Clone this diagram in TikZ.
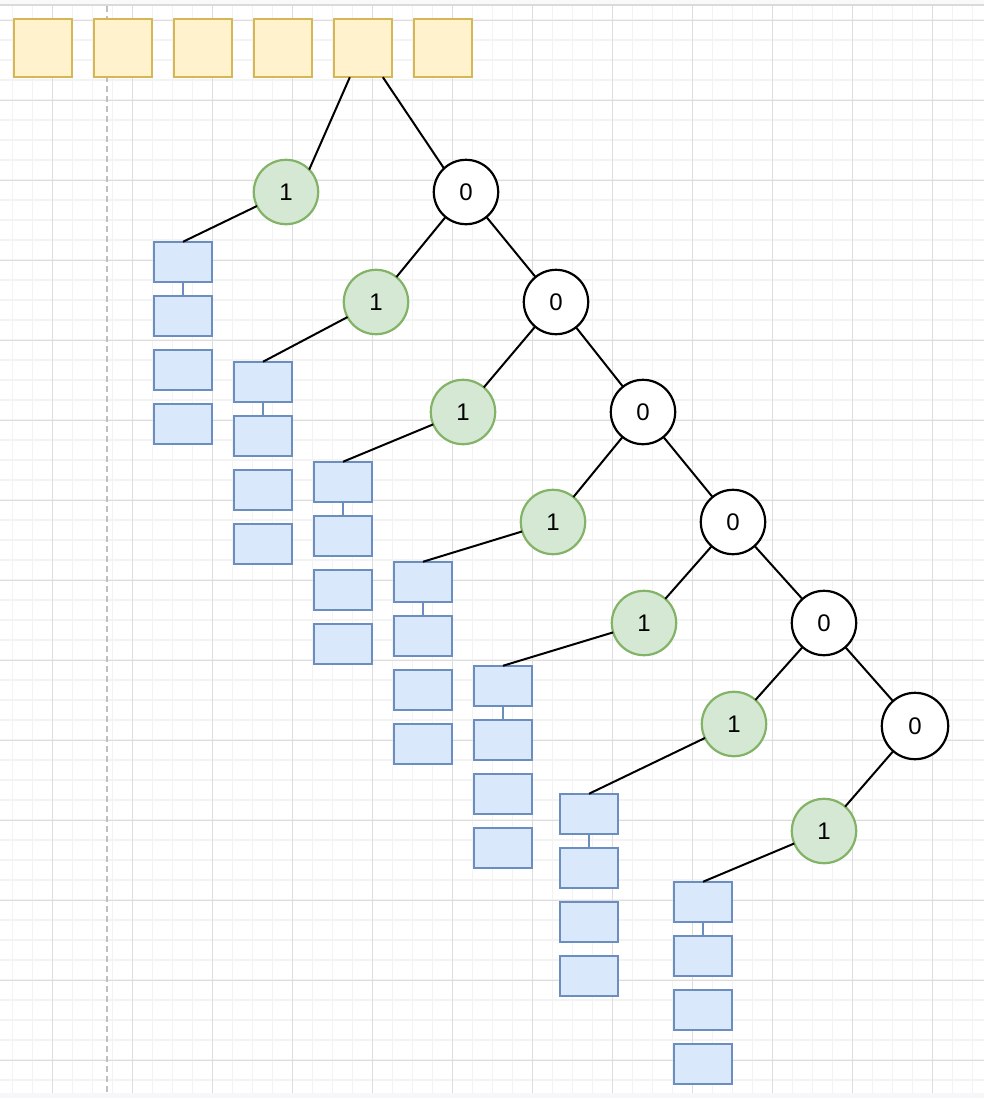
\documentclass[tikz,border=0pt]{standalone}
\usepackage{fontspec}
\setmainfont{Liberation Sans}
\usetikzlibrary{calc}
\definecolor{yfill}{HTML}{FFF2CC}
\definecolor{ydraw}{HTML}{D6B656}
\definecolor{gfill}{HTML}{D5E8D4}
\definecolor{gdraw}{HTML}{82B366}
\definecolor{bfill}{HTML}{DAE8FC}
\definecolor{bdraw}{HTML}{6C8EBF}
\definecolor{gridminor}{HTML}{F3F3F3}
\definecolor{gridmajor}{HTML}{DDDDDD}
\definecolor{topband}{HTML}{F9F9F9}
\definecolor{topline}{HTML}{DADADA}
\definecolor{botband}{HTML}{F6F7F9}
\definecolor{dashgray}{HTML}{C0C0C0}
\begin{document}
\begin{tikzpicture}[x=1pt,y=-1pt,
  ysq/.style={draw=ydraw,fill=yfill,line width=2.2pt,minimum width=58.4pt,minimum height=58.4pt,inner sep=0pt,outer sep=0pt},
  gnode/.style={circle,draw=gdraw,fill=gfill,line width=2.2pt,minimum size=64.4pt,inner sep=0pt,outer sep=0pt,font=\fontsize{24}{28}\selectfont},
  znode/.style={circle,draw=black,fill=white,line width=2.2pt,minimum size=64.4pt,inner sep=0pt,outer sep=0pt,font=\fontsize{24}{28}\selectfont},
  bbox/.style={draw=bdraw,fill=bfill,line width=2.2pt,minimum width=58.4pt,minimum height=40.1pt,inner sep=0pt,outer sep=0pt},
  edgeline/.style={draw=black,line width=2pt},
  blink/.style={draw=bdraw,line width=2.2pt},
  minorline/.style={draw=gridminor,line width=1.5pt},
  majorline/.style={draw=gridmajor,line width=1pt}
]
\useasboundingbox (0,0) rectangle (984,1098);
% background
\fill[white] (0,0) rectangle (984,1098);
\fill[topband] (0,0) rectangle (984,4);
\fill[botband] (0,1093) rectangle (984,1098);
% grid
\foreach \k in {0,...,48} \draw[minorline] (12.7+20*\k,6) -- (12.7+20*\k,1093);
\foreach \k in {1,...,54} \draw[minorline] (0,20*\k) -- (984,20*\k);
\foreach \k in {0,...,11} \draw[majorline] (52.7+80*\k,6) -- (52.7+80*\k,1093);
\foreach \k in {0,...,13} \draw[majorline] (0,20+80*\k) -- (984,20+80*\k);
\draw[topline,line width=1.6pt] (0,5) -- (984,5);
% dashed guide
\coordinate (dtop) at (107,6);
\coordinate (dbot) at (107,1093);
\draw[dashgray,line width=2pt,dash pattern=on 6pt off 4pt] (dtop) -- (dbot);
% top squares
\foreach \i/\x in {1/43,2/123,3/203,4/283,5/363,6/443}
  \node[ysq] (y\i) at (\x,48) {};
% circles
\node[gnode] (g1) at (286,192) {1};
\node[znode] (z1) at (466,192) {0};
\node[gnode] (g2) at (376,302) {1};
\node[znode] (z2) at (556,302) {0};
\node[gnode] (g3) at (463,412) {1};
\node[znode] (z3) at (643,412) {0};
\node[gnode] (g4) at (553,522) {1};
\node[znode] (z4) at (733,522) {0};
\node[gnode] (g5) at (644,623) {1};
\node[znode] (z5) at (824,623) {0};
\node[gnode] (g6) at (734,724) {1};
\node[znode,minimum size=66.4pt] (z6) at (915,726) {0};
\node[gnode] (g7) at (824,831) {1};
% stacks
\foreach \i/\x/\y in {1/183/261.8,2/263/381.8,3/343/481.8,4/423/581.8,5/503/685.8,6/589/813.8,7/703/901.8}
{
  \node[bbox] (s\i-1) at (\x,\y) {};
  \node[bbox] (s\i-2) at (\x,\y+54) {};
  \node[bbox] (s\i-3) at (\x,\y+108) {};
  \node[bbox] (s\i-4) at (\x,\y+162) {};
  \draw[blink] (s\i-1) -- (s\i-2);
  \draw[edgeline] (g\i) -- (s\i-1.north);
}
% tree edges
\draw[edgeline] ($(y5.south west)!0.275!(y5.south east)$) -- (g1.44);
\draw[edgeline] ($(y5.south west)!0.84!(y5.south east)$) -- (z1.133);
\draw[edgeline] (z1) -- (g2);
\draw[edgeline] (z1) -- (z2);
\draw[edgeline] (z2) -- (g3);
\draw[edgeline] (z2) -- (z3);
\draw[edgeline] (z3) -- (g4);
\draw[edgeline] (z3) -- (z4);
\draw[edgeline] (z4) -- (g5);
\draw[edgeline] (z4) -- (z5);
\draw[edgeline] (z5) -- (g6);
\draw[edgeline] (z5) -- (z6);
\draw[edgeline] (z6) -- (g7);
\end{tikzpicture}
\end{document}
